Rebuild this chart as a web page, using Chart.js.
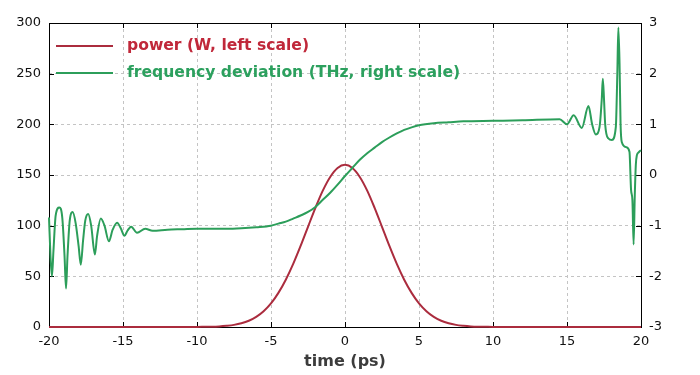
<!DOCTYPE html>
<html>
<head>
<meta charset="utf-8">
<script src="https://cdn.jsdelivr.net/npm/chart.js@4.4.0/dist/chart.umd.min.js"></script>
<style>
  html, body { margin: 0; padding: 0; background: #fff; }
  #wrap { width: 700px; height: 375px; }
</style>
</head>
<body>
<div id="wrap"><canvas id="chart-pulse"></canvas></div>
<script>
// ---------------- data ----------------
const powerLabel = 'power (W, left scale)';
const freqLabel = 'frequency deviation (THz, right scale)';
const axisTitle = 'time (ps)';

// power, left scale (W)
const timePs = [-20, -10, -9.5, -9, -8.5, -8, -7.5, -7, -6.5, -6, -5.5, -5, -4.5, -4, -3.5, -3, -2.5, -2, -1.5, -1, -0.5,
    0, 0.5, 1, 1.5, 2, 2.5, 3, 3.5, 4, 4.5, 5, 5.5, 6, 6.5, 7, 7.5, 8, 8.5, 9, 9.5, 10, 20];
const powerW = [0, 0.1, 0.2, 0.3, 0.6, 1.2, 2.1, 3.7, 6.2, 10, 15.6, 23.3, 33.7, 46.7, 62.3, 80, 98.9, 117.6, 134.6, 148.1, 156.9,
    160, 156.9, 148.1, 134.6, 117.6, 98.9, 80, 62.3, 46.7, 33.7, 23.3, 15.6, 10, 6.2, 3.7, 2.1, 1.2, 0.6, 0.3, 0.2, 0.1, 0];

// frequency deviation, right scale (THz)
const freqTime = [-20, -19.9, -19.8, -19.7, -19.55, -19.3, -19.1, -18.95, -18.85, -18.75, -18.6, -18.4, -18.2, -18.0, -17.85,
    -17.7, -17.55, -17.35, -17.15, -16.9, -16.75, -16.5, -16.25, -15.95, -15.7, -15.4, -15.15, -14.9, -14.7, -14.45, -14.05,
    -13.5, -13.0, -12, -11, -10, -8, -7, -6, -5, -4.5, -4, -3.5, -3, -2.5, -2, -1.5, -1, -0.5, 0, 0.5, 1, 1.5, 2, 2.5, 3,
    3.5, 4, 4.5, 5, 6, 7, 8, 10, 12, 14.5, 15, 15.45, 16.0, 16.45, 16.7, 16.95, 17.2, 17.35, 17.42, 17.5, 17.58, 17.8, 18.03,
    18.3, 18.4, 18.47, 18.55, 18.62, 18.7, 19.0, 19.22, 19.33, 19.42, 19.5, 19.58, 19.65, 19.72, 19.85, 20];
const freqTHz = [-0.84, -1.6, -2.0, -1.5, -0.8, -0.64, -0.85, -1.6, -2.24, -1.6, -0.9, -0.73, -0.95, -1.4, -1.77,
    -1.3, -0.9, -0.77, -1.0, -1.57, -1.2, -0.86, -1.0, -1.31, -1.08, -0.94, -1.05, -1.2, -1.1, -1.02, -1.14,
    -1.06, -1.1, -1.08, -1.07, -1.06, -1.06, -1.05, -1.03, -1.0, -0.96, -0.92, -0.86, -0.8, -0.73, -0.63, -0.49, -0.35, -0.19, -0.02, 0.14, 0.3, 0.43, 0.54, 0.65, 0.74,
    0.82, 0.89, 0.94, 0.98, 1.02, 1.04, 1.06, 1.07, 1.08, 1.1, 1.0, 1.18, 0.93, 1.36, 1.0, 0.8, 0.95, 1.5, 1.9, 1.5, 1.0, 0.72, 0.69,
    0.95, 2.0, 2.91, 2.2, 1.0, 0.65, 0.55, 0.46, -0.3, -0.5, -1.37, -0.4, 0.2, 0.39, 0.45, 0.49];

// axis ranges / ticks
const timeRange = [-20, 20];
const powerRange = [0, 300];
const freqRange = [-3, 3];

const redLine = '#ab2c3e';
const greenLine = '#2c9e5a';
const fontFam = '"DejaVu Sans", Verdana, sans-serif';

// ---------------- plugins ----------------
// frame + inner tick marks
const framePlugin = {
    id: 'frame',
    beforeDatasetsDraw(chart) {
        const { ctx, chartArea: a, scales } = chart;
        ctx.save();
        ctx.strokeStyle = '#000';
        ctx.lineWidth = 1;
        ctx.beginPath();
        scales.x.ticks.forEach(t => {
            const px = Math.round(scales.x.getPixelForValue(t.value)) + 0.5;
            ctx.moveTo(px, a.bottom); ctx.lineTo(px, a.bottom - 5);
            ctx.moveTo(px, a.top); ctx.lineTo(px, a.top + 5);
        });
        scales.y.ticks.forEach(t => {
            const py = Math.round(scales.y.getPixelForValue(t.value)) + 0.5;
            ctx.moveTo(a.left, py); ctx.lineTo(a.left + 5, py);
        });
        scales.y1.ticks.forEach(t => {
            const py = Math.round(scales.y1.getPixelForValue(t.value)) + 0.5;
            ctx.moveTo(a.right, py); ctx.lineTo(a.right - 5, py);
        });
        ctx.stroke();
        ctx.strokeRect(Math.round(a.left) + 0.5, Math.round(a.top) + 0.5,
            Math.round(a.right - a.left), Math.round(a.bottom - a.top));
        ctx.restore();
    }
};

// legend drawn inside the plot, top left
const innerLegend = {
    id: 'innerLegend',
    afterDraw(chart) {
        const { ctx, chartArea: a } = chart;
        ctx.save();
        ctx.font = 'bold 15.6px ' + fontFam;
        ctx.textBaseline = 'middle';
        chart.data.datasets.forEach((ds, i) => {
            const y = a.top + 23 + i * 27;
            ctx.strokeStyle = ds.borderColor;
            ctx.lineWidth = 2;
            ctx.beginPath();
            ctx.moveTo(a.left + 7, y); ctx.lineTo(a.left + 64, y);
            ctx.stroke();
            ctx.fillStyle = ds.legendColor;
            ctx.fillText(ds.label, a.left + 78, y);
        });
        ctx.restore();
    }
};

// ---------------- chart ----------------
const tickFont = { family: fontFam, size: 13 };

const pulse = document.getElementById('chart-pulse').getContext('2d');
const chart_pulse = new Chart(pulse, {
    type: 'line',
    data: {
        datasets: [{
            label: powerLabel,
            data: timePs.map((t, i) => ({ x: t, y: powerW[i] })),
            borderColor: redLine,
            legendColor: '#c0283a',
            borderWidth: 2,
            pointRadius: 0,
            cubicInterpolationMode: 'monotone',
            yAxisID: 'y',
            order: 1,
            clip: 4
        }, {
            label: freqLabel,
            data: freqTime.map((t, i) => ({ x: t, y: freqTHz[i] })),
            borderColor: greenLine,
            legendColor: '#2ca05e',
            borderWidth: 2,
            pointRadius: 0,
            cubicInterpolationMode: 'monotone',
            yAxisID: 'y1',
            order: 0,
            clip: 4
        }]
    },
    options: {
        responsive: true,
        maintainAspectRatio: false,
        animation: false,
        layout: { padding: { top: 23, left: 0, right: 0, bottom: 0 } },
        plugins: {
            legend: { display: false },
            tooltip: { enabled: false }
        },
        scales: {
            x: {
                type: 'linear',
                min: timeRange[0],
                max: timeRange[1],
                ticks: { stepSize: 5, font: tickFont, color: '#111', padding: 7, maxRotation: 0 },
                grid: { color: '#c4c4c4', drawTicks: false },
                border: { display: false, dash: [3, 3] },
                title: {
                    display: true,
                    text: axisTitle,
                    color: '#3c3c3c',
                    font: { family: fontFam, size: 16, weight: 'bold' },
                    padding: { top: 0, bottom: 4 }
                },
                afterFit: s => { s.height = 48; }
            },
            y: {
                position: 'left',
                min: powerRange[0],
                max: powerRange[1],
                ticks: { stepSize: 50, font: tickFont, color: '#111', padding: 8 },
                grid: { color: '#c4c4c4', drawTicks: false },
                border: { display: false, dash: [3, 3] },
                afterFit: s => { s.width = 49; }
            },
            y1: {
                position: 'right',
                min: freqRange[0],
                max: freqRange[1],
                ticks: { stepSize: 1, font: tickFont, color: '#111', padding: 8 },
                grid: { drawOnChartArea: false, drawTicks: false },
                border: { display: false },
                afterFit: s => { s.width = 59; }
            }
        }
    },
    plugins: [framePlugin, innerLegend]
});
</script>
</body>
</html>
